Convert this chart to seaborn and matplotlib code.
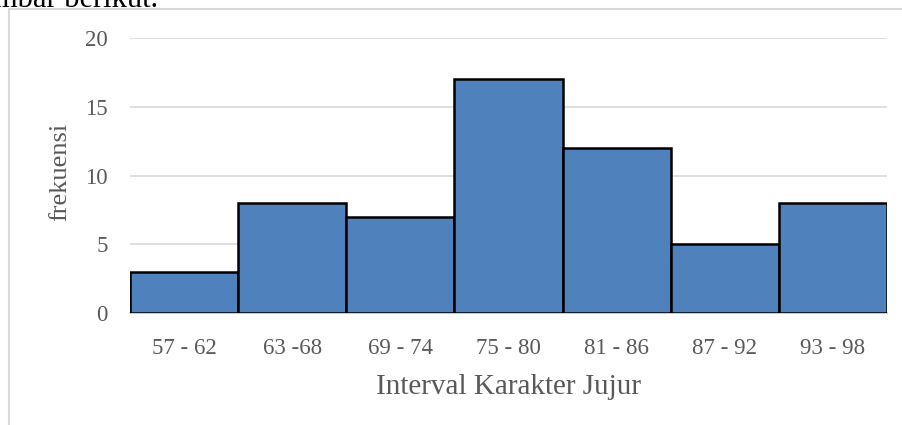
import pandas as pd
import matplotlib.pyplot as plt
import seaborn as sns
from matplotlib.patches import Rectangle

# data
intervals = ["57 - 62", "63 -68", "69 - 74", "75 - 80", "81 - 86", "87 - 92", "93 - 98"]
frekuensi = [3, 8, 7, 17, 12, 5, 8]

df = pd.DataFrame({"interval": intervals, "frekuensi": frekuensi})

sns.set_theme(style="white")
plt.rcParams["font.family"] = ["Liberation Serif", "DejaVu Serif"]

fig = plt.figure(figsize=(9.03, 4.25), dpi=100)
ax = fig.add_axes([130 / 903, 1 - 313 / 425, 757 / 903, 275 / 425])

sns.barplot(data=df, x="interval", y="frekuensi", color="#4F81BD", saturation=1,
            width=1.0, edgecolor="black", linewidth=1.8, ax=ax, zorder=3)

ax.set_ylim(0, 20)
ax.set_xlim(-0.5, len(intervals) - 0.5)
ax.set_yticks([0, 5, 10, 15, 20])
ax.yaxis.grid(True, color="#d9d9d9", linewidth=1.2, zorder=0)
for side in ["left", "right", "top"]:
    ax.spines[side].set_visible(False)
ax.spines["bottom"].set_color("#bfbfbf")
ax.spines["bottom"].set_linewidth(1.2)
ax.tick_params(axis="both", length=0, labelsize=16.5, labelcolor="#595959")
ax.tick_params(axis="y", pad=16)
ax.tick_params(axis="x", pad=18)

ax.set_xlabel("Interval Karakter Jujur", fontsize=21, color="#595959")
ax.set_ylabel("frekuensi", fontsize=19, color="#595959")
ax.xaxis.set_label_coords((509 - 130) / 757, (313 - 374) / 275)
ax.yaxis.set_label_coords((71 - 130) / 757, (313 - 172) / 275)

# chart border (extends past the right and bottom edges like the screenshot)
fig.patches.append(Rectangle((9 / 903, -0.1), 1.2, 1 - 9 / 425 + 0.1,
                             transform=fig.transFigure, fill=False,
                             edgecolor="#d9d9d9", linewidth=1.5))

# cut-off line of text above the chart
fig.text(-6 / 903, 1 - 7 / 425, "mbar berikut.", fontsize=22, color="black",
         va="baseline", ha="left")

fig.savefig("out.png", dpi=100)
